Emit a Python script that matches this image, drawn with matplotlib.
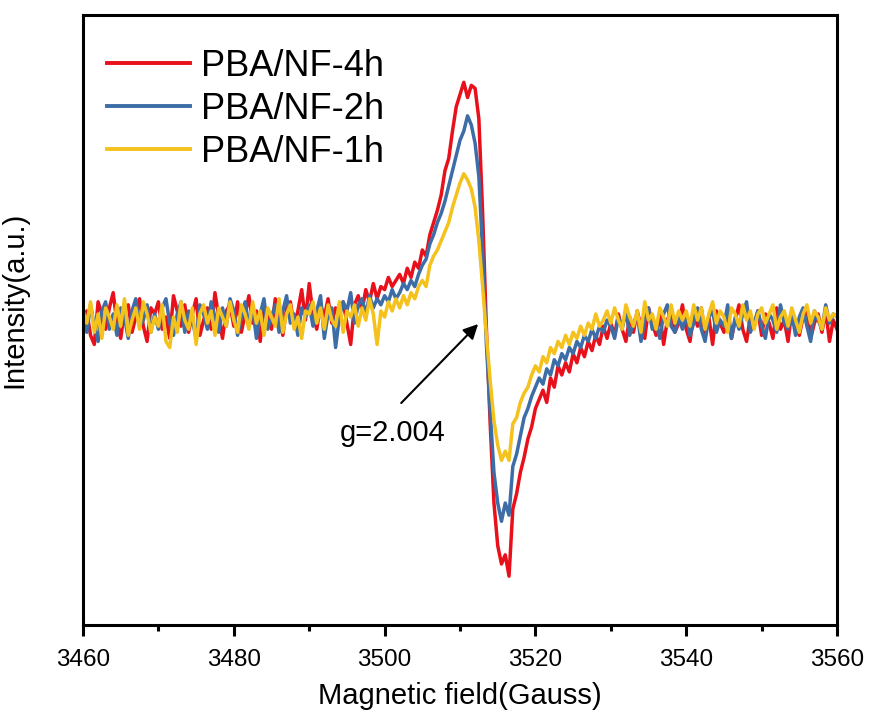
import matplotlib

matplotlib.use("Agg")
import matplotlib.pyplot as plt
import numpy as np

# field sweep: 3460-3560 G in 0.5 G steps
FIELD_START, FIELD_STEP, N_PTS = 3460.0, 0.5, 201

# intensities, in hundredths of an arbitrary unit
RED_4H = [
    -2, 3, -5, -8, 6, 2, -3, 4, 9, -1, -6, 3, 5, -4, 1, 7, -2, -7, 4, 2,          # 3460
    6, -3, 1, -6, 8, 3, -2, 5, -4, 2, 7, -5, 0, 4, -3, 9, 1, -6, 3, 5,            # 3470
    -2, 6, -4, 2, 8, -1, 3, -7, 5, 1, -3, 7, 2, -5, 4, 6, -2, 3, 10, 0,           # 3480
    12, 2, -3, 5, 1, 7, -1, 4, 2, 6, -1, -8, 5, 8, 3, 10, 6, 12, 7, 11,           # 3490
    10, 14, 11, 13, 15, 12, 17, 14, 19, 17, 23, 21, 28, 32, 36, 41, 49, 53, 62, 70,  # 3500
    74, 78, 73, 77, 76, 66, 35, -3, -34, -60, -74, -80, -77, -84, -62, -57, -50, -45, -39, -35,  # 3510
    -29, -26, -23, -27, -19, -22, -15, -18, -14, -17, -11, -14, -9, -12, -7, -10, -5, -8, -2, -6,  # 3520
    -1, -5, 2, -3, -7, 1, -4, 3, -2, -6, 4, -1, -5, 2, -8, 0, 3, -4, -1, 5,       # 3530
    -3, -7, 2, -2, 4, -5, 1, -8, 3, -1, -4, 2, -6, 0, 5, -3, -7, 1, -2, 3,        # 3540
    -5, 2, -1, -6, 4, -3, 0, -7, 3, -2, -5, 1, 4, -6, -1, 2, -4, 3, -7, 0,        # 3550
    -3,
]
BLUE_2H = [
    1, -4, 5, -2, -7, 3, 6, -3, 2, -5, 4, 1, -6, 3, 7, -2, 0, 5, -4, 2,
    -3, 4, 7, -1, -5, 2, 6, -4, 3, 0, -6, 5, 2, -3, 6, 1, -4, 4, -2, 7,
    3, -5, 1, 6, -2, 4, -6, 2, 7, -3, 1, 5, -4, 3, 8, -1, 2, -5, 4, 1,
    5, -2, 3, 8, -6, 2, 4, -9, 1, 6, 3, 9, -1, 5, 7, 2, 8, 4, 7, 5,
    8, 6, 10, 7, 9, 12, 10, 13, 11, 15, 18, 20, 25, 28, 32, 35, 39, 44, 49, 54,
    59, 62, 67, 64, 58, 47, 22, -8, -30, -50, -60, -66, -60, -64, -48, -44, -38, -32, -29, -25,
    -22, -19, -21, -16, -18, -13, -15, -11, -13, -9, -11, -7, -9, -5, -7, -3, -6, -2, -4, 0,
    -2, -6, 1, -3, 3, -5, -1, 2, -7, 0, 4, -3, -1, -6, 2, 5, -2, -4, 1, -3,
    2, -5, -1, 4, -3, -7, 1, 3, -4, 0, -2, 5, -6, 1, -3, 2, 6, -4, -1, 3,
    -2, -6, 2, 0, -4, 5, -1, -3, 2, -5, 1, 4, -2, -7, 3, 0, -3, 5, -1, 2,
    1,
]
YELLOW_1H = [
    3, -1, 6, -4, 2, -6, 4, 1, -3, 5, -2, 7, -5, 0, 4, -3, 6, 2, -4, 1,
    -2, 5, -7, -9, 1, -4, 6, 0, -3, 4, -8, 2, 5, -1, 3, -5, 4, 1, -2, 6,
    0, -4, 5, 2, -3, 6, -1, 3, -5, 4, 1, -2, 7, -4, 2, 5, -3, 1, -6, 3,
    2, 6, -1, 4, -3, 5, 0, -2, 6, -4, 3, 1, 5, -2, 4, 0, 7, 2, -8, 3,
    1, 6, 3, 7, 4, 8, 5, 9, 7, 11, 13, 11, 18, 21, 23, 26, 29, 32, 37, 41,
    45, 48, 46, 43, 37, 26, 11, -5, -20, -33, -41, -46, -43, -46, -34, -32, -27, -24, -22, -18,
    -15, -17, -12, -14, -9, -11, -7, -9, -5, -8, -4, -6, -2, -5, -1, -3, 2, -2, 0, 3,
    -1, 4, 0, -3, 5, 1, -2, 3, -4, 6, 0, 2, -3, 4, 1, -2, 5, -1, 3, 0,
    3, -2, 5, 0, 4, -3, 2, 6, -1, 3, 1, -4, 4, 2, -2, 5, 0, 3, -3, 2,
    4, -1, 2, 5, -3, 1, 3, -2, 4, 0, -4, 2, 5, -1, 3, 1, -3, 4, 0, 2,
    1,
]
SERIES = [("PBA/NF-4h", RED_4H, "#e8101a"),
          ("PBA/NF-2h", BLUE_2H, "#3d6da6"),
          ("PBA/NF-1h", YELLOW_1H, "#f5c11c")]

G_LABEL = "g=2.004"
G_TIP = (3512.4, -0.013)
G_TAIL = (3502.2, -0.272)
G_TEXT = (3501.1, -0.37)

plt.rcParams.update({
    "font.family": ["Liberation Sans", "DejaVu Sans"],
    "axes.linewidth": 2.2,
})

field = FIELD_START + FIELD_STEP * np.arange(N_PTS)

fig = plt.figure(figsize=(8.71, 7.25), dpi=100)
ax = fig.add_axes([0.0953, 0.138, 0.8657, 0.841])

for label, vals, color in SERIES:
    ax.plot(field, np.asarray(vals) / 100.0, color=color, lw=2.5, label=label)

ax.set_xlim(3460, 3560)
ax.set_ylim(-1.0, 1.0)
ax.set_xticks(np.arange(3460, 3561, 20))
ax.set_xticks(np.arange(3470, 3560, 20), minor=True)
ax.set_yticks([])
ax.tick_params(axis="x", which="major", direction="out", length=8, width=2.2,
               labelsize=17.5, pad=9)
ax.tick_params(axis="x", which="minor", direction="out", length=4, width=2.2)

ax.set_xlabel("Magnetic field(Gauss)", fontsize=21, labelpad=8)
ax.set_ylabel("Intensity(a.u.)", fontsize=21)
ax.yaxis.set_label_coords(-0.073, 0.533)

ax.annotate("", xy=G_TIP, xytext=G_TAIL,
            arrowprops=dict(arrowstyle="-|>", color="black", lw=1.5,
                            mutation_scale=22, shrinkA=0, shrinkB=0))
ax.text(*G_TEXT, G_LABEL, fontsize=21, ha="center", va="center")

leg = ax.legend(loc="upper left", bbox_to_anchor=(0.032, 0.945), frameon=False,
                fontsize=26, handlelength=2.3, handletextpad=0.3,
                labelspacing=0.22, borderpad=0, borderaxespad=0)
for h in leg.get_lines():
    h.set_linewidth(2.8)

fig.savefig("out.png", dpi=100)
